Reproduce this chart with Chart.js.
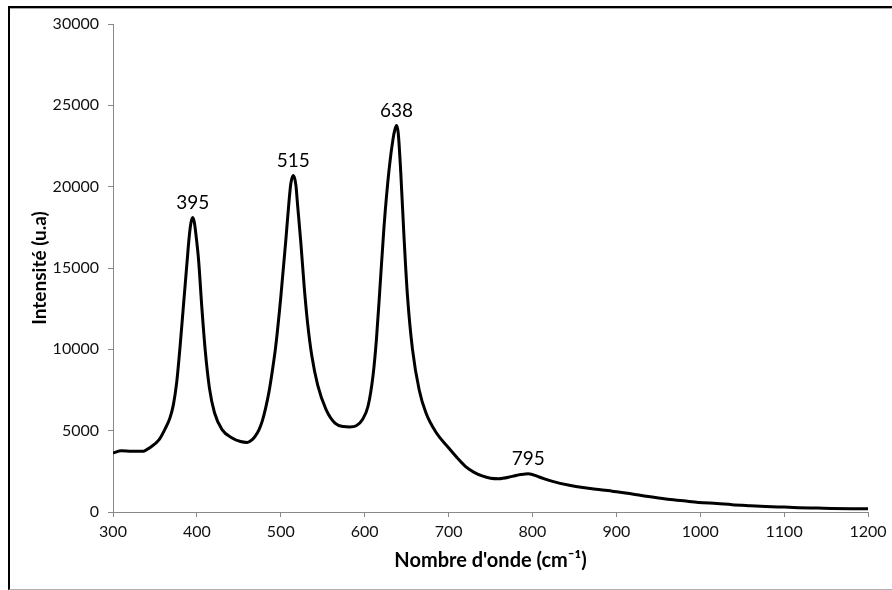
<!DOCTYPE html>
<html>
<head>
<meta charset="utf-8">
<script src="https://cdn.jsdelivr.net/npm/chart.js@4.4.1/dist/chart.umd.min.js"></script>
<style>
  html, body { margin: 0; padding: 0; background: #fff; }
  #wrap { position: relative; width: 892px; height: 590px; overflow: hidden; }
  #frame { position: absolute; left: 8px; top: 6px; width: 900px; height: 581px;
           border-left: 2px solid #000; border-top: 2px solid #000; border-bottom: 1px solid #b0b0b0;
           box-shadow: 0 1px 0 #aaa inset; pointer-events: none; }
  canvas { position: absolute; left: 0; top: 0; }
</style>
</head>
<body>
<div id="wrap">
  <canvas id="c" width="892" height="590"></canvas>
  <div id="frame"></div>
</div>
<script>
// Wavenumber (cm-1)
const waveNumbers = [300, 310, 320, 335, 345, 355, 362, 368, 372, 376, 380, 384, 388, 391, 393, 395, 397, 399, 402, 406, 410, 415, 421, 430, 442, 452, 460, 466, 470, 474, 478, 482, 486, 490, 494, 500, 506, 510, 512, 515, 518, 520, 524, 528, 532, 537, 544, 554, 565, 575, 582, 590, 597, 604, 610, 614, 618, 623, 629, 634, 636, 638, 640, 643, 647, 651, 657, 665, 673, 685, 700, 710, 720, 730, 740, 750, 760, 776, 786, 795, 808, 824, 844, 860, 879, 895, 911, 930, 959, 980, 998, 1020, 1038, 1060, 1078, 1100, 1117, 1140, 1157, 1180, 1200];
// Intensity (u.a)
const intensities = [3630, 3760, 3740, 3730, 4000, 4450, 5100, 5800, 6600, 8000, 10200, 12700, 15200, 17000, 17800, 18100, 17800, 17000, 15500, 12500, 9900, 7600, 6100, 5060, 4550, 4330, 4280, 4450, 4700, 5050, 5600, 6400, 7400, 8700, 10200, 13200, 16700, 19200, 20200, 20680, 20100, 18900, 16500, 13800, 11600, 9600, 7800, 6300, 5450, 5250, 5230, 5300, 5650, 6500, 8400, 10600, 13600, 17500, 21000, 23000, 23500, 23760, 23300, 20900, 16800, 13300, 10000, 7500, 6100, 4900, 3950, 3350, 2800, 2450, 2220, 2080, 2050, 2190, 2300, 2355, 2150, 1880, 1640, 1500, 1390, 1280, 1170, 1020, 800, 690, 590, 520, 450, 390, 345, 300, 265, 240, 220, 205, 200];
// Annotated peaks
const peakLabels = ['395', '515', '638', '795'];
const peakX = [395, 515, 638, 795];
const peakY = [18100, 20680, 23760, 2355];

const xTitle = "Nombre d'onde (cm\u207B\u00B9)";
const yTitle = 'Intensité (u.a)';

const points = waveNumbers.map((x, i) => ({ x: x, y: intensities[i] }));

const peakLabelPlugin = {
  id: 'peakLabels',
  afterDatasetsDraw(chart) {
    const ctx = chart.ctx;
    const xs = chart.scales.x, ys = chart.scales.y;
    ctx.save();
    ctx.font = '19px Lato';
    ctx.fillStyle = '#000';
    ctx.textAlign = 'center';
    ctx.textBaseline = 'middle';
    peakLabels.forEach((t, i) => {
      const px = xs.getPixelForValue(peakX[i]);
      const py = ys.getPixelForValue(peakY[i]);
      ctx.fillText(t, px, py - 15);
    });
    ctx.restore();
  }
};

const plainTick = (v) => String(v);

new Chart(document.getElementById('c'), {
  type: 'line',
  data: {
    datasets: [{
      data: points,
      borderColor: '#000',
      borderWidth: 3,
      pointRadius: 0,
      fill: false,
      cubicInterpolationMode: 'monotone'
    }]
  },
  options: {
    responsive: false,
    animation: false,
    events: [],
    layout: { padding: { left: 0, right: 24, top: 24, bottom: 0 } },
    plugins: { legend: { display: false }, tooltip: { enabled: false } },
    scales: {
      x: {
        type: 'linear',
        min: 300, max: 1200,
        afterFit: (s) => { s.height = 78; },
        border: { display: true, color: '#888', width: 1 },
        grid: { display: true, drawOnChartArea: false, drawTicks: true, tickLength: 5, color: '#888' },
        ticks: { stepSize: 100, color: '#111', font: { family: 'Lato', size: 16 }, padding: 5, maxRotation: 0, callback: plainTick },
        title: { display: true, text: xTitle, color: '#000', font: { family: 'Lato', size: 20, weight: 'bold' }, padding: { top: 0, bottom: 17 } }
      },
      y: {
        min: 0, max: 30000,
        afterFit: (s) => { s.width = 113; },
        border: { display: true, color: '#888', width: 1 },
        grid: { display: true, drawOnChartArea: false, drawTicks: true, tickLength: 5, color: '#888' },
        ticks: { stepSize: 5000, color: '#111', font: { family: 'Lato', size: 16 }, padding: 9, callback: plainTick },
        title: { display: true, text: yTitle, color: '#000', font: { family: 'Lato', size: 19, weight: 'bold' }, padding: { top: 28, bottom: 0 } }
      }
    }
  },
  plugins: [peakLabelPlugin]
});
</script>
</body>
</html>
